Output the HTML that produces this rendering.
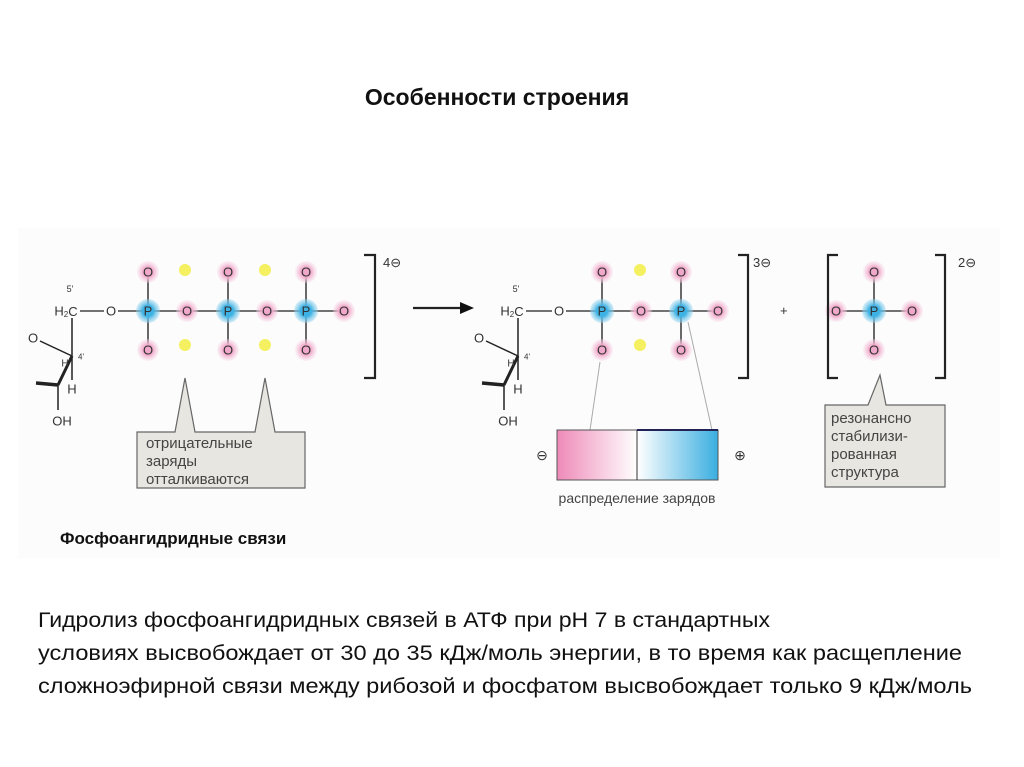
<!DOCTYPE html>
<html><head><meta charset="utf-8"><style>
html,body{margin:0;padding:0;background:#fff;}
svg{display:block;}
</style></head><body>
<svg width="1024" height="767" viewBox="0 0 1024 767" xmlns="http://www.w3.org/2000/svg" font-family="Liberation Sans, sans-serif">
<defs>
<radialGradient id="pk"><stop offset="0.45" stop-color="#f0a8ca"/><stop offset="1" stop-color="#f7d6e6" stop-opacity="0.3"/></radialGradient>
<radialGradient id="bl"><stop offset="0.45" stop-color="#3fb2e4"/><stop offset="1" stop-color="#9ad6f0" stop-opacity="0.4"/></radialGradient>
<linearGradient id="gp" x1="0" x2="1"><stop offset="0" stop-color="#ee8ab8"/><stop offset="1" stop-color="#fff"/></linearGradient>
<linearGradient id="gb" x1="0" x2="1"><stop offset="0" stop-color="#fff"/><stop offset="1" stop-color="#3aaee0"/></linearGradient>
</defs>
<rect x="18" y="228" width="982" height="330" fill="#fcfcfc"/>
<text x="497" y="105" text-anchor="middle" font-size="23" font-weight="bold" fill="#111">Особенности строения</text>

<g stroke="#444" stroke-width="1.6" fill="none">
<line x1="80" y1="311" x2="104" y2="311"/><line x1="118" y1="311" x2="342" y2="311"/>
<line x1="148" y1="272" x2="148" y2="350"/><line x1="228" y1="272" x2="228" y2="350"/><line x1="306" y1="272" x2="306" y2="350"/>
<line x1="526" y1="311" x2="552" y2="311"/><line x1="566" y1="311" x2="716" y2="311"/>
<line x1="602" y1="272" x2="602" y2="350"/><line x1="681" y1="272" x2="681" y2="350"/>
<line x1="836" y1="311" x2="912" y2="311"/><line x1="874" y1="272" x2="874" y2="350"/>
</g>
<g stroke="#222" fill="none">
<line x1="72" y1="318" x2="72" y2="380" stroke-width="1.5"/>
<line x1="40" y1="341" x2="72" y2="356" stroke-width="1.5"/>
<line x1="72" y1="356" x2="58" y2="385" stroke-width="3"/>
<line x1="58" y1="385" x2="36" y2="383" stroke-width="3.5"/>
<line x1="58" y1="385" x2="58" y2="410" stroke-width="1.5"/>
</g>
<g transform="translate(446,0)" stroke="#222" fill="none">
<line x1="72" y1="318" x2="72" y2="380" stroke-width="1.5"/>
<line x1="40" y1="341" x2="72" y2="356" stroke-width="1.5"/>
<line x1="72" y1="356" x2="58" y2="385" stroke-width="3"/>
<line x1="58" y1="385" x2="36" y2="383" stroke-width="3.5"/>
<line x1="58" y1="385" x2="58" y2="410" stroke-width="1.5"/>
</g>

<g fill="url(#pk)">
<circle cx="148" cy="272" r="11"/><circle cx="228" cy="272" r="11"/><circle cx="306" cy="272" r="11"/>
<circle cx="148" cy="350" r="11"/><circle cx="228" cy="350" r="11"/><circle cx="306" cy="350" r="11"/>
<circle cx="187" cy="311" r="11"/><circle cx="267" cy="311" r="11"/><circle cx="344" cy="311" r="11"/>
<circle cx="602" cy="272" r="11"/><circle cx="681" cy="272" r="11"/><circle cx="602" cy="350" r="11"/><circle cx="681" cy="350" r="11"/>
<circle cx="641" cy="311" r="11"/><circle cx="718" cy="311" r="11"/>
<circle cx="874" cy="272" r="11"/><circle cx="874" cy="350" r="11"/><circle cx="836" cy="311" r="11"/><circle cx="912" cy="311" r="11"/>
</g>
<g fill="url(#bl)">
<circle cx="148" cy="311" r="12"/><circle cx="228" cy="311" r="12"/><circle cx="306" cy="311" r="12"/>
<circle cx="602" cy="311" r="12"/><circle cx="681" cy="311" r="12"/><circle cx="874" cy="311" r="12"/>
</g>
<g fill="#f4f060">
<circle cx="185" cy="270" r="6"/><circle cx="265" cy="270" r="6"/><circle cx="185" cy="345" r="6"/><circle cx="265" cy="345" r="6"/>
<circle cx="640" cy="270" r="6"/><circle cx="640" cy="345" r="6"/>
</g>
<g font-size="13" fill="#333" text-anchor="middle" dominant-baseline="central">
<text x="148" y="272">O</text><text x="228" y="272">O</text><text x="306" y="272">O</text>
<text x="148" y="350">O</text><text x="228" y="350">O</text><text x="306" y="350">O</text>
<text x="111" y="311">O</text><text x="187" y="311">O</text><text x="267" y="311">O</text><text x="344" y="311">O</text>
<text x="148" y="311">P</text><text x="228" y="311">P</text><text x="306" y="311">P</text>
<text x="602" y="272">O</text><text x="681" y="272">O</text><text x="602" y="350">O</text><text x="681" y="350">O</text>
<text x="559" y="311">O</text><text x="641" y="311">O</text><text x="718" y="311">O</text>
<text x="602" y="311">P</text><text x="681" y="311">P</text>
<text x="874" y="272">O</text><text x="874" y="350">O</text><text x="836" y="311">O</text><text x="912" y="311">O</text><text x="874" y="311">P</text>
<text x="66" y="311">H<tspan font-size="8" dy="3">2</tspan><tspan dy="-3">C</tspan></text>
<text x="512" y="311">H<tspan font-size="8" dy="3">2</tspan><tspan dy="-3">C</tspan></text>
<text x="33" y="338">O</text><text x="479" y="338">O</text>
<text x="72" y="389">H</text><text x="518" y="389">H</text>
<text x="62" y="421">OH</text><text x="508" y="421">OH</text>
<text x="70" y="289" font-size="9">5'</text><text x="516" y="289" font-size="9">5'</text>
<text x="81" y="357" font-size="8">4'</text><text x="527" y="357" font-size="8">4'</text>
<text x="65" y="364" font-size="10">H</text><text x="511" y="364" font-size="10">H</text>
</g>
<g stroke="#222" stroke-width="2.2" fill="none">
<polyline points="364,255 375,255 375,378 364,378"/>
<polyline points="738,255 748,255 748,378 738,378"/>
<polyline points="838,255 828,255 828,378 838,378"/>
<polyline points="935,255 945,255 945,378 935,378"/>
<line x1="413" y1="308" x2="462" y2="308"/>
</g>
<polygon points="474,308 460,302 460,314" fill="#111"/>
<g font-size="13" fill="#333">
<text x="383" y="267">4⊖</text><text x="753" y="267">3⊖</text><text x="958" y="267">2⊖</text>
<text x="780" y="315">+</text>
</g>
<path d="M137,432 L175,432 L185,378 L195,432 L255,432 L265,378 L275,432 L305,432 L305,488 L137,488 Z" fill="#e8e6e1" stroke="#666" stroke-width="1.2"/>
<g font-size="15" fill="#444"><text x="146" y="448">отрицательные</text><text x="146" y="466">заряды</text><text x="146" y="484">отталкиваются</text></g>
<text x="60" y="544" font-size="17" font-weight="bold" fill="#111">Фосфоангидридные связи</text>
<g stroke="#aaa" stroke-width="1"><line x1="600" y1="362" x2="590" y2="430"/><line x1="688" y1="322" x2="712" y2="430"/></g>
<rect x="557" y="430" width="80" height="50" fill="url(#gp)"/>
<rect x="637" y="430" width="81" height="50" fill="url(#gb)"/>
<rect x="557" y="430" width="161" height="50" fill="none" stroke="#555" stroke-width="1"/>
<line x1="637" y1="430" x2="637" y2="480" stroke="#333"/>
<line x1="637" y1="430" x2="718" y2="430" stroke="#225" stroke-width="2"/>
<g font-size="14" fill="#333" text-anchor="middle"><text x="542" y="460">⊖</text><text x="740" y="460">⊕</text></g>
<text x="637" y="503" font-size="14" fill="#444" text-anchor="middle">распределение зарядов</text>
<path d="M825,405 L868,405 L880,375 L886,405 L945,405 L945,487 L825,487 Z" fill="#e8e6e1" stroke="#666" stroke-width="1.2"/>
<g font-size="15" fill="#444"><text x="831" y="423">резонансно</text><text x="831" y="441">стабилизи-</text><text x="831" y="459">рованная</text><text x="831" y="477">структура</text></g>
<g font-size="21" fill="#111">
<text x="38" y="627" textLength="732" lengthAdjust="spacingAndGlyphs">Гидролиз фосфоангидридных связей в АТФ при pH 7 в стандартных</text>
<text x="38" y="660" textLength="924" lengthAdjust="spacingAndGlyphs">условиях высвобождает от 30 до 35 кДж/моль энергии, в то время как расщепление</text>
<text x="38" y="693" textLength="934" lengthAdjust="spacingAndGlyphs">сложноэфирной связи между рибозой и фосфатом высвобождает только 9 кДж/моль</text>
</g>
</svg>
</body></html>
